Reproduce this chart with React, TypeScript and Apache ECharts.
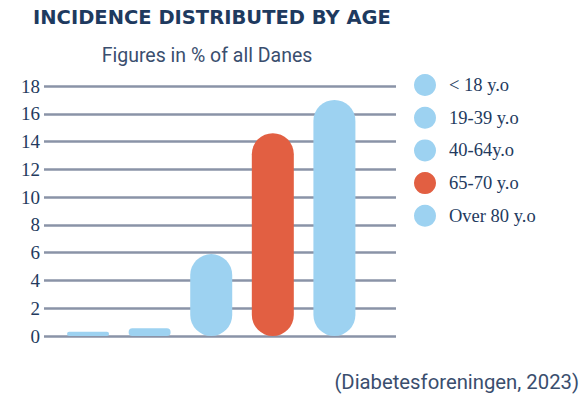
import React, { useEffect, useRef } from "react";
import * as echarts from "echarts";

const categories = ["< 18 y.o", "19-39 y.o", "40-64y.o", "65-70 y.o", "Over 80 y.o"];
const values = [0.3, 0.55, 5.9, 14.6, 17.0];
const colors = ["#9dd2f1", "#9dd2f1", "#9dd2f1", "#e25f42", "#9dd2f1"];
const yTicks = [0, 2, 4, 6, 8, 10, 12, 14, 16, 18];

const NAVY = "#233a5e";

export default function App() {
  const ref = useRef<HTMLDivElement>(null);
  useEffect(() => {
    if (!ref.current) return;
    const chart = echarts.init(ref.current, undefined, { renderer: "svg" });
    const series = categories.map((name, i) => ({
      name,
      type: "bar",
      stack: "all",
      barWidth: 42,
      data: [[i, values[i]]],
      itemStyle: { color: colors[i], borderRadius: 21 },
      z: 3,
    }));
    chart.setOption({
      animation: false,
      title: [
        {
          text: "INCIDENCE DISTRIBUTED BY AGE",
          left: 33,
          top: 7,
          padding: 0,
          textStyle: { fontFamily: "DejaVu Sans", fontWeight: 700, fontSize: 19.5, color: "#1e3a5f" },
        },
        {
          text: "Figures in % of all Danes",
          left: 207,
          textAlign: "center",
          top: 45,
          padding: 0,
          textStyle: { fontFamily: "Roboto", fontWeight: 400, fontSize: 19.5, color: "#3a4e6e" },
        },
        {
          text: "(Diabetesforeningen, 2023)",
          right: 6,
          top: 372,
          padding: 0,
          textStyle: { fontFamily: "Roboto", fontWeight: 400, fontSize: 20.3, color: "#3a4e6e" },
        },
      ],
      legend: {
        orient: "vertical",
        left: 409,
        top: 69,
        icon: "circle",
        itemWidth: 22,
        itemHeight: 22,
        itemGap: 10.7,
        data: categories,
        selectedMode: false,
        textStyle: { fontFamily: "Liberation Serif", fontSize: 18.5, color: NAVY, padding: [0, 0, 0, 8] },
      },
      grid: { left: 44, right: 189, top: 86, bottom: 65, containLabel: false },
      xAxis: {
        type: "value",
        min: -0.715,
        max: 5.0,
        show: false,
      },
      yAxis: {
        type: "value",
        min: 0,
        max: 18,
        interval: 2,
        axisLine: { show: false },
        axisTick: { show: false },
        axisLabel: {
          margin: 4,
          fontFamily: "Liberation Serif",
          fontSize: 19,
          color: NAVY,
          formatter: (v: number) => (yTicks.includes(v) ? String(v) : ""),
        },
        splitLine: { lineStyle: { color: "#8a93a7", width: 2.5 } },
      },
      series,
    });
    return () => chart.dispose();
  }, []);
  return <div ref={ref} style={{ width: 585, height: 401, position: "absolute", left: 0, top: 0 }} />;
}
